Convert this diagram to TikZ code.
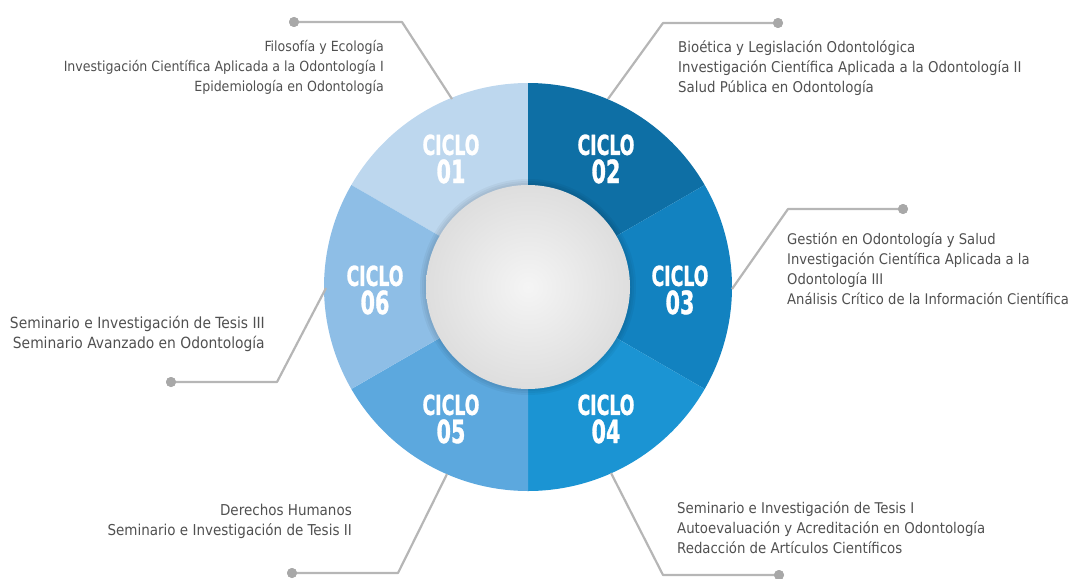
\documentclass[tikz,border=0pt]{standalone}
\usepackage{fontspec}
\setmainfont{DejaVu Sans Condensed}
\newfontfamily\ciclofont{DejaVu Sans Condensed}[BoldFeatures={FakeBold=1.2}]
\definecolor{c01}{RGB}{189,215,238}
\definecolor{c02}{RGB}{14,111,165}
\definecolor{c03}{RGB}{18,130,192}
\definecolor{c04}{RGB}{27,148,211}
\definecolor{c05}{RGB}{92,168,222}
\definecolor{c06}{RGB}{142,190,230}
\definecolor{tgray}{RGB}{80,80,80}
\definecolor{lgray}{RGB}{182,182,182}
\definecolor{dgray}{RGB}{168,168,168}
\newcommand\cyclab[1]{\scalebox{0.7}[1]{\fontsize{27.5}{27.5}\selectfont CICLO}\\[3pt]\scalebox{0.72}[1]{\fontsize{32}{32}\selectfont #1}}
\tikzset{
  cyc/.style={font=\ciclofont\bfseries, text=white, inner sep=0pt, align=center},
  txt/.style={text=tgray, inner sep=0pt},
  conn/.style={draw=lgray, line width=2.2pt, line join=round},
  dotnode/.style={circle, fill=dgray, minimum size=10pt, inner sep=0pt},
}
\begin{document}
\begin{tikzpicture}[x=1pt,y=-1pt]
\useasboundingbox (0,0) rectangle (1075,578);
% ring
\begin{scope}[shift={(528,287)}]
  \fill[c01] (0,0) -- (-90:204) arc[start angle=-90, end angle=-150, radius=204] -- cycle;
  \fill[c02] (0,0) -- (-30:204) arc[start angle=-30, end angle=-90, radius=204] -- cycle;
  \fill[c03] (0,0) -- (30:204) arc[start angle=30, end angle=-30, radius=204] -- cycle;
  \fill[c04] (0,0) -- (90:204) arc[start angle=90, end angle=30, radius=204] -- cycle;
  \fill[c05] (0,0) -- (150:204) arc[start angle=150, end angle=90, radius=204] -- cycle;
  \fill[c06] (0,0) -- (210:204) arc[start angle=210, end angle=150, radius=204] -- cycle;
  % soft shadow of the inner disc
  \foreach \r in {108,106,104} {\fill[black, opacity=0.04] (0,0) circle[radius=\r];}
  \shade[inner color=black!4, outer color=black!13] (0,0) circle[radius=102];
\end{scope}
% cycle labels
\node[cyc] (l1) at (451,159) {\cyclab{01}};
\node[cyc] (l2) at (606,159) {\cyclab{02}};
\node[cyc] (l3) at (680,290) {\cyclab{03}};
\node[cyc] (l4) at (606,419) {\cyclab{04}};
\node[cyc] (l5) at (451,419) {\cyclab{05}};
\node[cyc] (l6) at (375,290) {\cyclab{06}};
% connector points
\coordinate (r1) at (452,99);  \coordinate (k1) at (402,22);  \node[dotnode] (d1) at (294,22) {};
\coordinate (r2) at (608,99);  \coordinate (k2) at (663,23);  \node[dotnode] (d2) at (778,23) {};
\coordinate (r3) at (732,289); \coordinate (k3) at (788,209); \node[dotnode] (d3) at (903,209) {};
\coordinate (r4) at (611,473); \coordinate (k4) at (663,575); \node[dotnode] (d4) at (779,575) {};
\coordinate (r5) at (447,474); \coordinate (k5) at (398,573); \node[dotnode] (d5) at (292,573) {};
\coordinate (r6) at (326,288); \coordinate (k6) at (277,382); \node[dotnode] (d6) at (171,382) {};
\draw[conn] (r1) -- (k1) -- (d1.center);
\draw[conn] (r2) -- (k2) -- (d2.center);
\draw[conn] (r3) -- (k3) -- (d3.center);
\draw[conn] (r4) -- (k4) -- (d4.center);
\draw[conn] (r5) -- (k5) -- (d5.center);
\draw[conn] (r6) -- (k6) -- (d6.center);
\foreach \i in {1,...,6} {\fill[dgray] (d\i) circle[radius=5];}
% texts
\node[txt, font=\fontsize{14.0}{20}\selectfont, align=right, anchor=north east] (t1) at (384,40)
  {Filosofía y Ecología\\Investigación Científica Aplicada a la Odontología I\\Epidemiología en Odontología};
\node[txt, font=\fontsize{14.85}{20}\selectfont, align=left, anchor=north west] (t2) at (678,40)
  {Bioética y Legislación Odontológica\\Investigación Científica Aplicada a la Odontología II\\Salud Pública en Odontología};
\node[txt, font=\fontsize{14.65}{20}\selectfont, align=left, anchor=north west] (t3) at (787,233)
  {Gestión en Odontología y Salud\\Investigación Científica Aplicada a la\\Odontología III\\Análisis Crítico de la Información Científica};
\node[txt, font=\fontsize{15.4}{20}\selectfont, align=right, anchor=north east] (t6) at (265,316)
  {Seminario e Investigación de Tesis III\\Seminario Avanzado en Odontología};
\node[txt, font=\fontsize{15.0}{20}\selectfont, align=right, anchor=north east] (t5) at (352,504)
  {Derechos Humanos\\Seminario e Investigación de Tesis II};
\node[txt, font=\fontsize{14.8}{20}\selectfont, align=left, anchor=north west] (t4) at (677,501)
  {Seminario e Investigación de Tesis I\\Autoevaluación y Acreditación en Odontología\\Redacción de Artículos Científicos};
\end{tikzpicture}
\end{document}
